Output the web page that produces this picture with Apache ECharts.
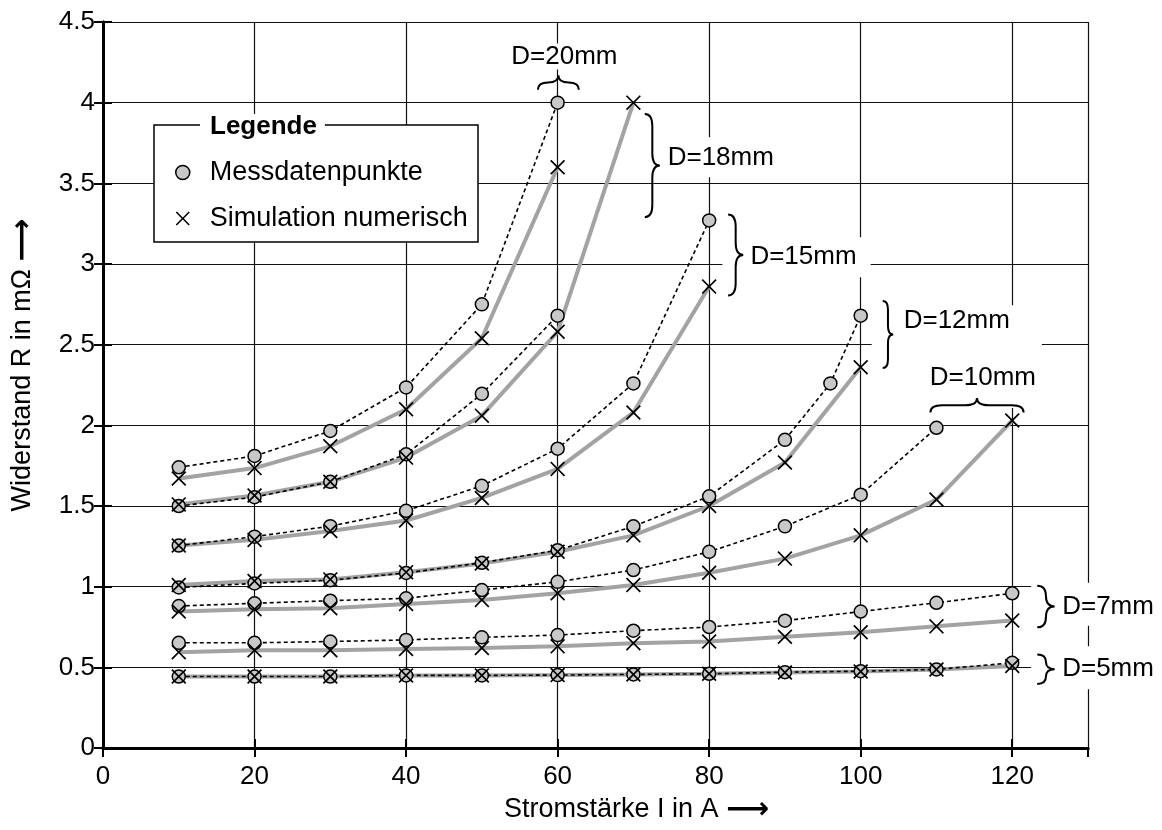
<!DOCTYPE html>
<html>
<head>
<meta charset="utf-8">
<script src="https://cdn.jsdelivr.net/npm/echarts@6/dist/echarts.min.js"></script>
<style>
  html, body { margin: 0; padding: 0; background: #fff; }
  #chart { width: 1162px; height: 830px; }
</style>
</head>
<body>
<div id="chart"></div>
<script>
// Widerstand R (mΩ) über Stromstärke I (A), Messung vs. numerische Simulation
const currents = [10, 20, 30, 40, 50, 60, 70, 80, 90, 100, 110, 120];
const currentsMessD12 = [10, 20, 30, 40, 50, 60, 70, 80, 90, 96, 100];

const messD20 = [1.74, 1.81, 1.965, 2.235, 2.75, 4.0];
const simD20  = [1.67, 1.735, 1.87, 2.10, 2.54, 3.60];
const messD18 = [1.50, 1.555, 1.65, 1.82, 2.195, 2.68];
const simD18  = [1.51, 1.565, 1.65, 1.80, 2.06, 2.58, 4.0];
const messD15 = [1.255, 1.31, 1.375, 1.47, 1.625, 1.855, 2.26, 3.27];
const simD15  = [1.255, 1.29, 1.345, 1.41, 1.55, 1.73, 2.08, 2.86];
const messD12 = [0.995, 1.02, 1.04, 1.085, 1.148, 1.226, 1.374, 1.56, 1.91, 2.26, 2.68];
const simD12  = [1.01, 1.035, 1.045, 1.09, 1.144, 1.216, 1.318, 1.50, 1.77, 2.36];
const messD10 = [0.88, 0.897, 0.913, 0.928, 0.979, 1.03, 1.103, 1.216, 1.374, 1.57, 1.985];
const simD10  = [0.846, 0.86, 0.866, 0.893, 0.918, 0.959, 1.01, 1.086, 1.174, 1.318, 1.54, 2.03];
const messD7  = [0.652, 0.652, 0.66, 0.67, 0.686, 0.70, 0.727, 0.75, 0.789, 0.846, 0.90, 0.959];
const simD7   = [0.594, 0.606, 0.606, 0.614, 0.62, 0.63, 0.65, 0.66, 0.69, 0.717, 0.754, 0.79];
const messD5  = [0.443, 0.443, 0.443, 0.45, 0.45, 0.452, 0.456, 0.46, 0.47, 0.476, 0.487, 0.528];
const simD5   = [0.443, 0.443, 0.443, 0.45, 0.45, 0.452, 0.456, 0.46, 0.468, 0.474, 0.487, 0.508];

const legendNames = ['Messdatenpunkte', 'Simulation numerisch'];

// Klammern + Beschriftung (Datenkoordinaten)
// brace: [x1, y1, x2, y2]  v: oben->unten, h: Enden y1, Spitze y2
const annotations = [
  { text: 'D=20mm', dir: 'h', brace: [57.4, 4.08, 62.8, 4.17], at: [60.9, 4.366], align: 'center', pad: [0, 0, 0, 0] },
  { text: 'D=18mm', dir: 'v', brace: [71.5, 3.93, 73.5, 3.29], at: [74.0, 3.785], align: 'left', pad: [7, 4, 7, 4] },
  { text: 'D=15mm', dir: 'v', brace: [82.5, 3.307, 84.5, 2.805], at: [81.75, 3.166], align: 'left', pad: [7, 14, 7, 28] },
  { text: 'D=12mm', dir: 'v', brace: [102.9, 2.77, 104.3, 2.356], at: [101.45, 2.744], align: 'left', pad: [3, 32, 14, 32] },
  { text: 'D=10mm', dir: 'h', brace: [109.2, 2.08, 121.5, 2.17], at: [107.8, 2.479], align: 'left', pad: [17, 10, 17, 10] },
  { text: 'D=7mm', dir: 'v', brace: [123.3, 1.006, 125.6, 0.748], at: [122.5, 1.0247], align: 'left', pad: [11, 6, 6, 31] },
  { text: 'D=5mm', dir: 'v', brace: [123.3, 0.58, 125.6, 0.397], at: [122.5, 0.630], align: 'left', pad: [9, 6, 8, 31] }
];

const measured = [
  [currents, messD20], [currents, messD18], [currents, messD15], [currentsMessD12, messD12],
  [currents, messD10], [currents, messD7], [currents, messD5]
];
const simulated = [simD20, simD18, simD15, simD12, simD10, simD7, simD5];

const crossPath = 'path://M8,0L50,42L92,0L100,8L58,50L100,92L92,100L50,58L8,100L0,92L42,50L0,8Z';
const font = 'Liberation Sans, Arial, sans-serif';

function pairs(xs, ys) {
  return ys.map((y, i) => [xs[i], y]);
}

function renderAnnotation(params, api) {
  const a = annotations[params.dataIndex];
  const b = a.brace;
  const p1 = api.coord([b[0], b[1]]);
  const p2 = api.coord([b[2], b[3]]);
  let d;
  if (a.dir === 'v') {
    const x0 = p1[0], xt = p2[0], xm = (x0 + xt) / 2;
    const yT = p1[1], yB = p2[1], yM = (yT + yB) / 2;
    const r = Math.min((xt - x0) * 0.8, (yB - yT) / 4);
    d = 'M' + x0 + ',' + yT + 'Q' + xm + ',' + yT + ' ' + xm + ',' + (yT + r) +
      'L' + xm + ',' + (yM - r) + 'Q' + xm + ',' + yM + ' ' + xt + ',' + yM +
      'Q' + xm + ',' + yM + ' ' + xm + ',' + (yM + r) +
      'L' + xm + ',' + (yB - r) + 'Q' + xm + ',' + yB + ' ' + x0 + ',' + yB;
  } else {
    const xL = p1[0], xR = p2[0], xM = (xL + xR) / 2;
    const yE = p1[1], yt = p2[1], ym = (yE + yt) / 2;
    const r = Math.min((xR - xL) / 4, (yE - yt) * 0.8);
    d = 'M' + xL + ',' + yE + 'Q' + xL + ',' + ym + ' ' + (xL + r) + ',' + ym +
      'L' + (xM - r) + ',' + ym + 'Q' + xM + ',' + ym + ' ' + xM + ',' + yt +
      'Q' + xM + ',' + ym + ' ' + (xM + r) + ',' + ym +
      'L' + (xR - r) + ',' + ym + 'Q' + xR + ',' + ym + ' ' + xR + ',' + yE;
  }
  const t = api.coord(a.at);
  return {
    type: 'group',
    children: [
      {
        type: 'text', x: t[0], y: t[1],
        style: {
          text: a.text, font: '26px ' + font, lineHeight: 26, fill: '#000',
          align: a.align, verticalAlign: 'top', backgroundColor: '#fff', padding: a.pad
        }
      },
      {
        type: 'path', shape: { pathData: d },
        style: { fill: 'none', stroke: '#000', lineWidth: 2 }
      }
    ]
  };
}

const series = [];
simulated.forEach(ys => {
  series.push({
    type: 'line', name: 'sim', data: pairs(currents, ys), z: 2,
    showSymbol: false, silent: true,
    lineStyle: { color: '#a3a3a3', width: 4 }
  });
});
measured.forEach(m => {
  series.push({
    type: 'line', name: legendNames[0], data: pairs(m[0], m[1]), z: 3,
    symbol: 'circle', symbolSize: 13, showAllSymbol: true, silent: true,
    lineStyle: { color: '#000', width: 1.6, type: [4, 3] },
    itemStyle: { color: '#c8c8c8', borderColor: '#000', borderWidth: 1.5 }
  });
});
series.push({
  type: 'scatter', name: legendNames[1], z: 4, silent: true,
  data: [].concat(...simulated.map(ys => pairs(currents, ys))),
  symbol: crossPath, symbolSize: 15,
  itemStyle: { color: '#000', opacity: 1 }
});
series.push({
  type: 'custom', name: 'labels', z: 6, silent: true, clip: false,
  data: annotations.map(a => a.at),
  encode: { x: 0, y: 1 },
  renderItem: renderAnnotation
});

const frameLine = { lineStyle: { color: '#000', width: 3 } };
const frameTick = { show: true, inside: true, length: 9, lineStyle: { color: '#000', width: 2 } };
const gridLine = { show: true, lineStyle: { color: '#111', width: 1.2 } };

const chart = echarts.init(document.getElementById('chart'), null, { renderer: 'canvas' });
chart.setOption({
  animation: false,
  backgroundColor: '#fff',
  textStyle: { fontFamily: font },
  grid: { left: 101, right: 74, top: 22, bottom: 78 },
  legend: {
    orient: 'vertical', left: 175, top: 159, padding: 0, itemGap: 19,
    itemWidth: 44, itemHeight: 14, z: 12, selectedMode: false,
    textStyle: { fontSize: 27, color: '#000', fontFamily: font },
    data: [
      { name: legendNames[0], icon: 'circle', itemStyle: { color: '#c8c8c8', borderColor: '#000', borderWidth: 1.5 } },
      { name: legendNames[1], icon: crossPath, itemStyle: { color: '#000', borderWidth: 0 } }
    ]
  },
  graphic: [
    { type: 'rect', z: 10, shape: { x: 154, y: 125, width: 324, height: 117 },
      style: { fill: '#fff', stroke: '#000', lineWidth: 1.5 } },
    { type: 'text', z: 11, x: 200, y: 127,
      style: { text: 'Legende', font: 'bold 26px ' + font, fill: '#000', verticalAlign: 'middle',
               backgroundColor: '#fff', padding: [0, 8, 0, 10] } }
  ],
  xAxis: [
    {
      type: 'value', min: 0, max: 130, interval: 20, position: 'bottom',
      axisLine: frameLine, axisTick: frameTick, splitLine: gridLine,
      axisLabel: { fontSize: 26, color: '#000', margin: 16, showMaxLabel: false, fontFamily: font },
      name: 'Stromstärke I in A {a|⟶}', nameLocation: 'middle', nameGap: 47,
      nameTextStyle: { fontSize: 27, color: '#000', fontFamily: font, padding: [0, 0, 0, 82],
        rich: { a: { fontSize: 30, fontWeight: 'bold', fontFamily: 'DejaVu Sans' } } }
    },
    {
      type: 'value', min: 0, max: 130, interval: 20, position: 'top',
      axisLine: frameLine, axisTick: frameTick, splitLine: { show: false }, axisLabel: { show: false }
    }
  ],
  yAxis: [
    {
      type: 'value', min: 0, max: 4.5, interval: 0.5, position: 'left',
      axisLine: frameLine, axisTick: frameTick, splitLine: gridLine,
      axisLabel: { fontSize: 26, color: '#000', margin: 8, fontFamily: font },
      name: 'Widerstand R in mΩ {a|⟶}', nameLocation: 'middle', nameGap: 65,
      nameTextStyle: { fontSize: 27, color: '#000', fontFamily: font, padding: [0, 0, 0, 40],
        rich: { a: { fontSize: 30, fontWeight: 'bold', fontFamily: 'DejaVu Sans' } } }
    },
    {
      type: 'value', min: 0, max: 4.5, interval: 0.5, position: 'right',
      axisLine: frameLine, axisTick: frameTick, splitLine: { show: false }, axisLabel: { show: false }
    }
  ],
  series: series
});
</script>
</body>
</html>
